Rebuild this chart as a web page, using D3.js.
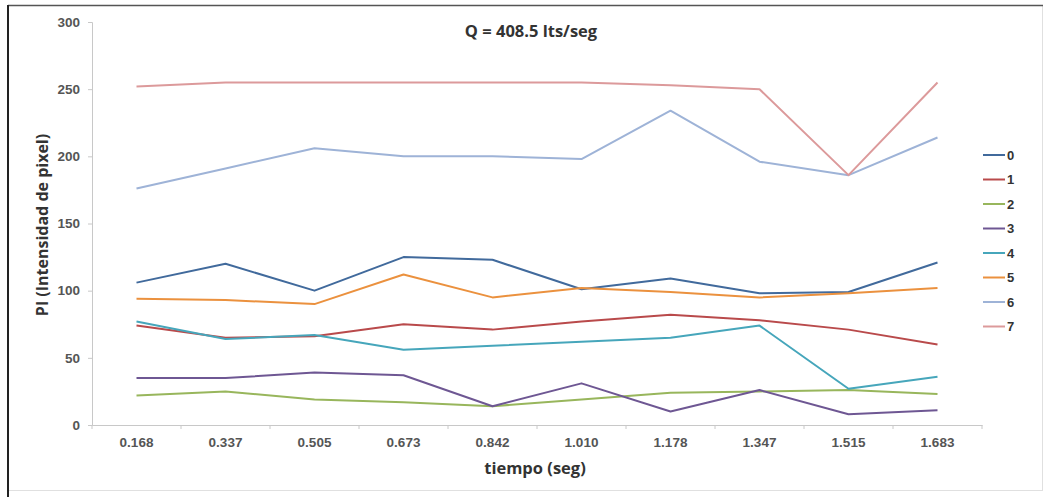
<!DOCTYPE html>
<html><head><meta charset="utf-8">
<script src="https://cdn.jsdelivr.net/npm/d3@7"></script>
<style>body{margin:0;background:#fff}svg{display:block}</style>
</head><body>
<svg id="c" width="1045" height="497"></svg>
<script>
const categories = ["0.168","0.337","0.505","0.673","0.842","1.010","1.178","1.347","1.515","1.683"];
const seriesNames = ["0","1","2","3","4","5","6","7"];
const s0 = [106,120,100,125,123,101,109,98,99,121];
const s1 = [74,65,66,75,71,77,82,78,71,60];
const s2 = [22,25,19,17,14,19,24,25,26,23];
const s3 = [35,35,39,37,14,31,10,26,8,11];
const s4 = [77,64,67,56,59,62,65,74,27,36];
const s5 = [94,93,90,112,95,102,99,95,98,102];
const s6 = [176,191,206,200,200,198,234,196,186,214];
const s7 = [252,255,255,255,255,255,253,250,186,255];
const yTicks = [0,50,100,150,200,250,300];
const colors = ["#416a9c","#b94a4b","#98b65c","#6e5793","#46a6bb","#eb913e","#9eb3d7","#dc9a9b"];
const allSeries = [s0,s1,s2,s3,s4,s5,s6,s7];

const svg = d3.select("#c");
// outer frame
svg.append("rect").attr("x",7.5).attr("y",5.5).attr("width",1035).attr("height",485)
  .attr("fill","#fff").attr("stroke","#e0e0e0").attr("stroke-width",1);
svg.append("line").attr("x1",8).attr("x2",1043).attr("y1",5.5).attr("y2",5.5).attr("stroke","#555").attr("stroke-width",1.5);
svg.append("line").attr("x1",8).attr("x2",8).attr("y1",5).attr("y2",497).attr("stroke","#222").attr("stroke-width",2);

const x = d3.scaleBand().domain(categories).range([92,982]);
const y = d3.scaleLinear().domain([0,300]).range([425,22]);

const font = "'Liberation Sans', Arial, sans-serif";
// y axis
const ya = svg.append("g").attr("transform","translate(92,0)")
  .call(d3.axisLeft(y).tickValues(yTicks).tickSize(4).tickPadding(8));
ya.select(".domain").attr("stroke","#c8c8c8");
ya.selectAll(".tick line").attr("stroke","#c8c8c8");
ya.selectAll("text").attr("font-family",font).attr("font-weight","bold").attr("font-size","13.5px").attr("fill","#555");

// x axis
const xa = svg.append("g").attr("transform","translate(0,425)")
  .call(d3.axisBottom(x).tickSize(0).tickPadding(12));
xa.select(".domain").attr("stroke","#c8c8c8");
xa.selectAll(".tick line").remove();
xa.selectAll("text").attr("font-family",font).attr("font-weight","bold").attr("font-size","13.5px").attr("fill","#555");
// boundary ticks
const bounds = categories.map(c=>x(c)).concat([x.range()[1]]);
svg.append("g").selectAll("line").data(bounds).join("line")
  .attr("x1",d=>d).attr("x2",d=>d).attr("y1",425).attr("y2",429).attr("stroke","#c8c8c8");

// lines
const line = d3.line().x((d,i)=>x(categories[i])+x.bandwidth()/2).y(d=>y(d));
svg.append("g").selectAll("path").data(allSeries).join("path")
  .attr("d",line).attr("fill","none").attr("stroke",(d,i)=>colors[i]).attr("stroke-width",2)
  .attr("stroke-linejoin","round");

// legend
const lg = svg.append("g").selectAll("g").data(seriesNames).join("g")
  .attr("transform",(d,i)=>`translate(983,${155+i*24.5})`);
lg.append("line").attr("x1",0).attr("x2",22).attr("stroke",(d,i)=>colors[i]).attr("stroke-width",2);
lg.append("text").attr("x",24).attr("dy","0.35em").text(d=>d)
  .attr("font-family",font).attr("font-weight","bold").attr("font-size","13px").attr("fill","#333");

// titles
svg.append("text").attr("x",531).attr("y",37).attr("text-anchor","middle").text("Q = 408.5 lts/seg")
  .attr("font-family","'Open Sans', sans-serif").attr("font-weight","bold").attr("font-size","16.5px").attr("fill","#333");
svg.append("text").attr("x",535).attr("y",474).attr("text-anchor","middle").text("tiempo (seg)")
  .attr("font-family","'Open Sans', sans-serif").attr("font-weight","bold").attr("font-size","16.5px").attr("fill","#333");
svg.append("text").attr("transform","translate(48,225) rotate(-90)").attr("text-anchor","middle").text("PI (Intensidad de pixel)")
  .attr("font-family","'Open Sans', sans-serif").attr("font-weight","bold").attr("font-size","16px").attr("fill","#333");
</script>
</body></html>
